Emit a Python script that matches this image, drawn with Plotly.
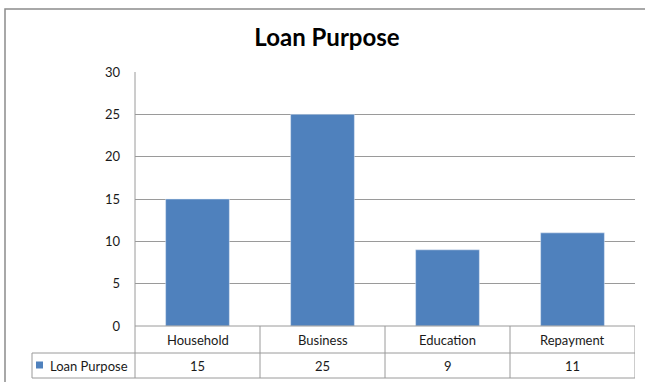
import plotly.graph_objects as go

categories = ["Household", "Business", "Education", "Repayment"]
values = [15, 25, 9, 11]
series_name = "Loan Purpose"
title_text = "Loan Purpose"
y_ticks = [0, 5, 10, 15, 20, 25, 30]

BAR = "#4F81BD"
GRID = "#9a9a9a"
TXT = "#1a1a1a"
FONT = "Lato"

W, H = 645, 382
L, R, T, B = 135, 10, 72, 56
ph = H - T - B
pw = W - L - R

def py(p):  # pixel y -> paper y
    return (H - B - p) / ph

def px(p):  # pixel x -> paper x
    return (p - L) / pw

fig = go.Figure()
fig.add_trace(go.Bar(x=categories, y=values, marker_color=BAR, width=0.51,
                     name=series_name, showlegend=False))

shapes = []
ann = []
# outer chart frame
shapes.append(dict(type="rect", xref="paper", yref="paper", x0=px(5), x1=px(660),
                   y0=py(400), y1=py(9), line=dict(color="#8c8c8c", width=1.5),
                   layer="below"))
# table horizontal lines (top of table = category axis line)
for yy in (326, 353, 378):
    x0 = 0 if yy == 326 else px(32)
    shapes.append(dict(type="line", xref="paper", yref="paper", x0=x0, x1=1,
                       y0=py(yy), y1=py(yy), line=dict(color=GRID, width=1)))
# left axis line extended through table
shapes.append(dict(type="line", xref="paper", yref="paper", x0=0, x1=0,
                   y0=py(378), y1=1, line=dict(color=GRID, width=1)))
# legend column left edge
shapes.append(dict(type="line", xref="paper", yref="paper", x0=px(32), x1=px(32),
                   y0=py(378), y1=py(353), line=dict(color=GRID, width=1)))
# category boundaries in table
for i in range(len(categories)):
    xb = i + 0.5
    shapes.append(dict(type="line", xref="x", yref="paper", x0=xb, x1=xb,
                       y0=py(378), y1=0, line=dict(color=GRID, width=1)))
# legend key square
shapes.append(dict(type="rect", xref="paper", yref="paper", x0=px(36), x1=px(43),
                   y0=py(368.5), y1=py(361.5), fillcolor=BAR, line=dict(width=0)))

for c, v in zip(categories, values):
    ann.append(dict(x=c, xref="x", y=py(339.5), yref="paper", text=c, showarrow=False,
                    font=dict(family=FONT, size=13, color=TXT), yanchor="middle"))
    ann.append(dict(x=c, xref="x", y=py(365.5), yref="paper", text=str(v), showarrow=False,
                    font=dict(family=FONT, size=13, color=TXT), yanchor="middle"))
ann.append(dict(x=px(48), xref="paper", y=py(365.5), yref="paper", text=series_name,
                showarrow=False, xanchor="left", yanchor="middle",
                font=dict(family=FONT, size=13, color=TXT)))

fig.update_layout(
    width=W, height=H,
    margin=dict(l=L, r=R, t=T, b=B),
    paper_bgcolor="white", plot_bgcolor="white",
    title=dict(text="<b>" + title_text + "</b>", x=327 / W, xanchor="center",
               y=1 - 38 / H, yanchor="middle",
               font=dict(family=FONT, size=24, color="black")),
    bargap=0.49,
    shapes=shapes, annotations=ann,
    xaxis=dict(range=[-0.5, len(categories) - 0.5], showticklabels=False,
               showgrid=False, zeroline=False, showline=False, fixedrange=True),
    yaxis=dict(range=[0, 30], tickvals=y_ticks, showgrid=True, gridcolor=GRID,
               gridwidth=1, zeroline=False, showline=False,
               tickfont=dict(family=FONT, size=13, color=TXT),
               ticks="", ticklabelstandoff=14),
)

fig.write_html("out.html")
